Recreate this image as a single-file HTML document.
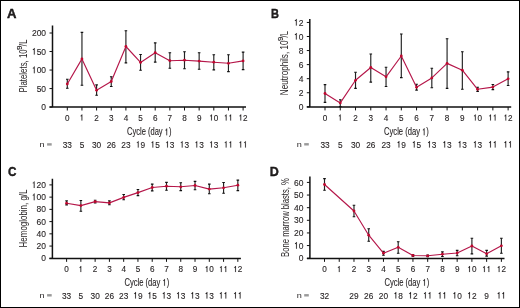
<!DOCTYPE html>
<html><head><meta charset="utf-8"><style>
html,body{margin:0;padding:0;background:#fff;}
body{width:520px;height:308px;overflow:hidden;}
svg{display:block;will-change:transform;}
svg text{font-family:"Liberation Sans", sans-serif;fill:#231f20;}
svg text.n{stroke:#231f20;stroke-width:0.12px;}
path.one{fill:#231f20;stroke:#231f20;stroke-width:0.12px;vector-effect:non-scaling-stroke;}
</style></head><body>
<svg width="520" height="308" viewBox="0 0 520 308">
<rect x="0.5" y="0.5" width="519" height="307" fill="#fff" stroke="#000" stroke-width="1"/>
<text transform="translate(7 17.6) scale(1.05 1)" font-size="12.5" font-weight="bold" fill="#000" stroke="#000" stroke-width="0.35">A</text>
<path d="M52.5 25.6V107.1M49.5 107.1H246" stroke="#111" stroke-width="1.5" fill="none"/>
<path d="M49.5 107.1H52.5M49.5 88.57H52.5M49.5 70.05H52.5M49.5 51.52H52.5M49.5 33H52.5" stroke="#111" stroke-width="1" fill="none"/>
<text class="n" transform="translate(46.1 110.2) scale(0.885 1)" text-anchor="end" font-size="9.6">0</text>
<text class="n" transform="translate(46.1 91.67) scale(0.885 1)" text-anchor="end" font-size="9.6">50</text>
<text class="n" transform="translate(46.1 73.15) scale(0.885 1)" text-anchor="end" font-size="9.6"> 00</text><path class="one" transform="translate(31.92 73.15) scale(0.00415 -0.00469)" d="M470 0V990H230V1130Q470 1150 520 1409H660V0Z"/>
<text class="n" transform="translate(46.1 54.62) scale(0.885 1)" text-anchor="end" font-size="9.6"> 50</text><path class="one" transform="translate(31.92 54.62) scale(0.00415 -0.00469)" d="M470 0V990H230V1130Q470 1150 520 1409H660V0Z"/>
<text class="n" transform="translate(46.1 36.1) scale(0.885 1)" text-anchor="end" font-size="9.6">200</text>
<path d="M67.3 107.1v3.4M81.95 107.1v3.4M96.6 107.1v3.4M111.25 107.1v3.4M125.9 107.1v3.4M140.55 107.1v3.4M155.2 107.1v3.4M169.85 107.1v3.4M184.5 107.1v3.4M199.15 107.1v3.4M213.8 107.1v3.4M228.45 107.1v3.4M243.1 107.1v3.4" stroke="#111" stroke-width="1" fill="none"/>
<text class="n" transform="translate(67.3 120.5) scale(0.93 1)" text-anchor="middle" font-size="8.8">0</text>
<text class="n" transform="translate(81.95 120.5) scale(0.93 1)" text-anchor="middle" font-size="8.8"> </text><path class="one" transform="translate(79.67 120.5) scale(0.00400 -0.00430)" d="M470 0V990H230V1130Q470 1150 520 1409H660V0Z"/>
<text class="n" transform="translate(96.6 120.5) scale(0.93 1)" text-anchor="middle" font-size="8.8">2</text>
<text class="n" transform="translate(111.25 120.5) scale(0.93 1)" text-anchor="middle" font-size="8.8">3</text>
<text class="n" transform="translate(125.9 120.5) scale(0.93 1)" text-anchor="middle" font-size="8.8">4</text>
<text class="n" transform="translate(140.55 120.5) scale(0.93 1)" text-anchor="middle" font-size="8.8">5</text>
<text class="n" transform="translate(155.2 120.5) scale(0.93 1)" text-anchor="middle" font-size="8.8">6</text>
<text class="n" transform="translate(169.85 120.5) scale(0.93 1)" text-anchor="middle" font-size="8.8">7</text>
<text class="n" transform="translate(184.5 120.5) scale(0.93 1)" text-anchor="middle" font-size="8.8">8</text>
<text class="n" transform="translate(199.15 120.5) scale(0.93 1)" text-anchor="middle" font-size="8.8">9</text>
<text class="n" transform="translate(213.8 120.5) scale(0.93 1)" text-anchor="middle" font-size="8.8"> 0</text><path class="one" transform="translate(209.25 120.5) scale(0.00400 -0.00430)" d="M470 0V990H230V1130Q470 1150 520 1409H660V0Z"/>
<text class="n" transform="translate(228.45 120.5) scale(0.93 1)" text-anchor="middle" font-size="8.8">  </text><path class="one" transform="translate(223.9 120.5) scale(0.00400 -0.00430)" d="M470 0V990H230V1130Q470 1150 520 1409H660V0Z"/><path class="one" transform="translate(228.45 120.5) scale(0.00400 -0.00430)" d="M470 0V990H230V1130Q470 1150 520 1409H660V0Z"/>
<text class="n" transform="translate(243.1 120.5) scale(0.93 1)" text-anchor="middle" font-size="8.8"> 2</text><path class="one" transform="translate(238.55 120.5) scale(0.00400 -0.00430)" d="M470 0V990H230V1130Q470 1150 520 1409H660V0Z"/>
<text transform="translate(39.6 147.2) scale(1.22 1)" font-size="7.5">n</text>
<rect x="47.1" y="143.2" width="4.6" height="2.4" fill="#9a9a9a"/>
<text class="n" transform="translate(67.3 147.6) scale(0.885 1)" text-anchor="middle" font-size="9.4">33</text>
<text class="n" transform="translate(81.95 147.6) scale(0.885 1)" text-anchor="middle" font-size="9.4">5</text>
<text class="n" transform="translate(96.6 147.6) scale(0.885 1)" text-anchor="middle" font-size="9.4">30</text>
<text class="n" transform="translate(111.25 147.6) scale(0.885 1)" text-anchor="middle" font-size="9.4">26</text>
<text class="n" transform="translate(125.9 147.6) scale(0.885 1)" text-anchor="middle" font-size="9.4">23</text>
<text class="n" transform="translate(140.55 147.6) scale(0.885 1)" text-anchor="middle" font-size="9.4"> 9</text><path class="one" transform="translate(135.92 147.6) scale(0.00406 -0.00459)" d="M470 0V990H230V1130Q470 1150 520 1409H660V0Z"/>
<text class="n" transform="translate(155.2 147.6) scale(0.885 1)" text-anchor="middle" font-size="9.4"> 5</text><path class="one" transform="translate(150.57 147.6) scale(0.00406 -0.00459)" d="M470 0V990H230V1130Q470 1150 520 1409H660V0Z"/>
<text class="n" transform="translate(169.85 147.6) scale(0.885 1)" text-anchor="middle" font-size="9.4"> 3</text><path class="one" transform="translate(165.22 147.6) scale(0.00406 -0.00459)" d="M470 0V990H230V1130Q470 1150 520 1409H660V0Z"/>
<text class="n" transform="translate(184.5 147.6) scale(0.885 1)" text-anchor="middle" font-size="9.4"> 3</text><path class="one" transform="translate(179.87 147.6) scale(0.00406 -0.00459)" d="M470 0V990H230V1130Q470 1150 520 1409H660V0Z"/>
<text class="n" transform="translate(199.15 147.6) scale(0.885 1)" text-anchor="middle" font-size="9.4"> 3</text><path class="one" transform="translate(194.52 147.6) scale(0.00406 -0.00459)" d="M470 0V990H230V1130Q470 1150 520 1409H660V0Z"/>
<text class="n" transform="translate(213.8 147.6) scale(0.885 1)" text-anchor="middle" font-size="9.4"> 3</text><path class="one" transform="translate(209.17 147.6) scale(0.00406 -0.00459)" d="M470 0V990H230V1130Q470 1150 520 1409H660V0Z"/>
<text class="n" transform="translate(228.45 147.6) scale(0.885 1)" text-anchor="middle" font-size="9.4">  </text><path class="one" transform="translate(223.82 147.6) scale(0.00406 -0.00459)" d="M470 0V990H230V1130Q470 1150 520 1409H660V0Z"/><path class="one" transform="translate(228.45 147.6) scale(0.00406 -0.00459)" d="M470 0V990H230V1130Q470 1150 520 1409H660V0Z"/>
<text class="n" transform="translate(243.1 147.6) scale(0.885 1)" text-anchor="middle" font-size="9.4">  </text><path class="one" transform="translate(238.47 147.6) scale(0.00406 -0.00459)" d="M470 0V990H230V1130Q470 1150 520 1409H660V0Z"/><path class="one" transform="translate(243.1 147.6) scale(0.00406 -0.00459)" d="M470 0V990H230V1130Q470 1150 520 1409H660V0Z"/>
<text transform="translate(127 135.3) scale(1.0 1)" class="n" font-size="10.0" textLength="44.4" lengthAdjust="spacingAndGlyphs">Cycle (day  )</text>
<path class="one" transform="translate(164.7 135.3) scale(0.00368 -0.00488)" d="M470 0V990H230V1130Q470 1150 520 1409H660V0Z"/>
<text transform="translate(27 92.6) rotate(-90)" font-size="10.3" stroke="none" textLength="43.3" lengthAdjust="spacingAndGlyphs">Platelets, 10</text>
<text transform="translate(22 49.9) rotate(-90)" font-size="6.6" stroke="#231f20" stroke-width="0.15" textLength="4.5" lengthAdjust="spacingAndGlyphs">9</text>
<text transform="translate(27 46.2) rotate(-90)" font-size="10.3" stroke="none" textLength="6.6" lengthAdjust="spacingAndGlyphs">/L</text>
<path d="M67.3 79.2V88.3M81.95 32.4V85.3M96.6 84.9V95.3M111.25 76.8V86.5M125.9 30.7V62.9M140.55 54.5V70.2M155.2 42.9V62.1M169.85 52.7V68.3M184.5 51.8V68.7M199.15 52.8V69.3M213.8 54.8V69.9M228.45 54.8V71.6M243.1 52.1V69.6" stroke="#222" stroke-width="1.15" fill="none"/>
<path d="M66 79.2h2.6M66 88.3h2.6M80.65 32.4h2.6M80.65 85.3h2.6M95.3 84.9h2.6M95.3 95.3h2.6M109.95 76.8h2.6M109.95 86.5h2.6M124.6 30.7h2.6M124.6 62.9h2.6M139.25 54.5h2.6M139.25 70.2h2.6M153.9 42.9h2.6M153.9 62.1h2.6M168.55 52.7h2.6M168.55 68.3h2.6M183.2 51.8h2.6M183.2 68.7h2.6M197.85 52.8h2.6M197.85 69.3h2.6M212.5 54.8h2.6M212.5 69.9h2.6M227.15 54.8h2.6M227.15 71.6h2.6M241.8 52.1h2.6M241.8 69.6h2.6" stroke="#111" stroke-width="1.1" fill="none"/>
<polyline points="67.3,84 81.95,58.9 96.6,90.3 111.25,81.5 125.9,46.5 140.55,62.4 155.2,52.7 169.85,60.7 184.5,60.2 199.15,61.1 213.8,62.2 228.45,63.3 243.1,60.9" stroke="#b5174a" stroke-width="1.15" fill="none" stroke-linejoin="round"/>
<circle cx="67.3" cy="84" r="1.4" fill="#c0082f"/>
<circle cx="81.95" cy="58.9" r="1.4" fill="#c0082f"/>
<circle cx="96.6" cy="90.3" r="1.4" fill="#c0082f"/>
<circle cx="111.25" cy="81.5" r="1.4" fill="#c0082f"/>
<circle cx="125.9" cy="46.5" r="1.4" fill="#c0082f"/>
<circle cx="140.55" cy="62.4" r="1.4" fill="#c0082f"/>
<circle cx="155.2" cy="52.7" r="1.4" fill="#c0082f"/>
<circle cx="169.85" cy="60.7" r="1.4" fill="#c0082f"/>
<circle cx="184.5" cy="60.2" r="1.4" fill="#c0082f"/>
<circle cx="199.15" cy="61.1" r="1.4" fill="#c0082f"/>
<circle cx="213.8" cy="62.2" r="1.4" fill="#c0082f"/>
<circle cx="228.45" cy="63.3" r="1.4" fill="#c0082f"/>
<circle cx="243.1" cy="60.9" r="1.4" fill="#c0082f"/>
<text transform="translate(271.1 17.5) scale(0.88 1)" font-size="12.5" font-weight="bold" fill="#000" stroke="#000" stroke-width="0.35">B</text>
<path d="M309.8 19.1V107M306.8 107H511.2" stroke="#111" stroke-width="1.5" fill="none"/>
<path d="M306.8 106.8H309.8M306.8 92.74H309.8M306.8 78.68H309.8M306.8 64.62H309.8M306.8 50.56H309.8M306.8 36.5H309.8M306.8 22.44H309.8" stroke="#111" stroke-width="1" fill="none"/>
<text class="n" transform="translate(303.4 109.9) scale(0.885 1)" text-anchor="end" font-size="9.6">0</text>
<text class="n" transform="translate(303.4 95.84) scale(0.885 1)" text-anchor="end" font-size="9.6">2</text>
<text class="n" transform="translate(303.4 81.78) scale(0.885 1)" text-anchor="end" font-size="9.6">4</text>
<text class="n" transform="translate(303.4 67.72) scale(0.885 1)" text-anchor="end" font-size="9.6">6</text>
<text class="n" transform="translate(303.4 53.66) scale(0.885 1)" text-anchor="end" font-size="9.6">8</text>
<text class="n" transform="translate(303.4 39.6) scale(0.885 1)" text-anchor="end" font-size="9.6"> 0</text><path class="one" transform="translate(293.95 39.6) scale(0.00415 -0.00469)" d="M470 0V990H230V1130Q470 1150 520 1409H660V0Z"/>
<text class="n" transform="translate(303.4 25.54) scale(0.885 1)" text-anchor="end" font-size="9.6"> 2</text><path class="one" transform="translate(293.95 25.54) scale(0.00415 -0.00469)" d="M470 0V990H230V1130Q470 1150 520 1409H660V0Z"/>
<path d="M325 107v3.4M340.26 107v3.4M355.52 107v3.4M370.78 107v3.4M386.04 107v3.4M401.3 107v3.4M416.56 107v3.4M431.82 107v3.4M447.08 107v3.4M462.34 107v3.4M477.6 107v3.4M492.86 107v3.4M508.12 107v3.4" stroke="#111" stroke-width="1" fill="none"/>
<text class="n" transform="translate(325 120.6) scale(0.93 1)" text-anchor="middle" font-size="8.8">0</text>
<text class="n" transform="translate(340.26 120.6) scale(0.93 1)" text-anchor="middle" font-size="8.8"> </text><path class="one" transform="translate(337.98 120.6) scale(0.00400 -0.00430)" d="M470 0V990H230V1130Q470 1150 520 1409H660V0Z"/>
<text class="n" transform="translate(355.52 120.6) scale(0.93 1)" text-anchor="middle" font-size="8.8">2</text>
<text class="n" transform="translate(370.78 120.6) scale(0.93 1)" text-anchor="middle" font-size="8.8">3</text>
<text class="n" transform="translate(386.04 120.6) scale(0.93 1)" text-anchor="middle" font-size="8.8">4</text>
<text class="n" transform="translate(401.3 120.6) scale(0.93 1)" text-anchor="middle" font-size="8.8">5</text>
<text class="n" transform="translate(416.56 120.6) scale(0.93 1)" text-anchor="middle" font-size="8.8">6</text>
<text class="n" transform="translate(431.82 120.6) scale(0.93 1)" text-anchor="middle" font-size="8.8">7</text>
<text class="n" transform="translate(447.08 120.6) scale(0.93 1)" text-anchor="middle" font-size="8.8">8</text>
<text class="n" transform="translate(462.34 120.6) scale(0.93 1)" text-anchor="middle" font-size="8.8">9</text>
<text class="n" transform="translate(477.6 120.6) scale(0.93 1)" text-anchor="middle" font-size="8.8"> 0</text><path class="one" transform="translate(473.05 120.6) scale(0.00400 -0.00430)" d="M470 0V990H230V1130Q470 1150 520 1409H660V0Z"/>
<text class="n" transform="translate(492.86 120.6) scale(0.93 1)" text-anchor="middle" font-size="8.8">  </text><path class="one" transform="translate(488.31 120.6) scale(0.00400 -0.00430)" d="M470 0V990H230V1130Q470 1150 520 1409H660V0Z"/><path class="one" transform="translate(492.86 120.6) scale(0.00400 -0.00430)" d="M470 0V990H230V1130Q470 1150 520 1409H660V0Z"/>
<text class="n" transform="translate(508.12 120.6) scale(0.93 1)" text-anchor="middle" font-size="8.8"> 2</text><path class="one" transform="translate(503.57 120.6) scale(0.00400 -0.00430)" d="M470 0V990H230V1130Q470 1150 520 1409H660V0Z"/>
<text transform="translate(296.7 147.1) scale(1.22 1)" font-size="7.5">n</text>
<rect x="304.2" y="143.1" width="4.6" height="2.4" fill="#9a9a9a"/>
<text class="n" transform="translate(325 147.5) scale(0.885 1)" text-anchor="middle" font-size="9.4">33</text>
<text class="n" transform="translate(340.26 147.5) scale(0.885 1)" text-anchor="middle" font-size="9.4">5</text>
<text class="n" transform="translate(355.52 147.5) scale(0.885 1)" text-anchor="middle" font-size="9.4">30</text>
<text class="n" transform="translate(370.78 147.5) scale(0.885 1)" text-anchor="middle" font-size="9.4">26</text>
<text class="n" transform="translate(386.04 147.5) scale(0.885 1)" text-anchor="middle" font-size="9.4">23</text>
<text class="n" transform="translate(401.3 147.5) scale(0.885 1)" text-anchor="middle" font-size="9.4"> 9</text><path class="one" transform="translate(396.67 147.5) scale(0.00406 -0.00459)" d="M470 0V990H230V1130Q470 1150 520 1409H660V0Z"/>
<text class="n" transform="translate(416.56 147.5) scale(0.885 1)" text-anchor="middle" font-size="9.4"> 5</text><path class="one" transform="translate(411.93 147.5) scale(0.00406 -0.00459)" d="M470 0V990H230V1130Q470 1150 520 1409H660V0Z"/>
<text class="n" transform="translate(431.82 147.5) scale(0.885 1)" text-anchor="middle" font-size="9.4"> 3</text><path class="one" transform="translate(427.19 147.5) scale(0.00406 -0.00459)" d="M470 0V990H230V1130Q470 1150 520 1409H660V0Z"/>
<text class="n" transform="translate(447.08 147.5) scale(0.885 1)" text-anchor="middle" font-size="9.4"> 3</text><path class="one" transform="translate(442.45 147.5) scale(0.00406 -0.00459)" d="M470 0V990H230V1130Q470 1150 520 1409H660V0Z"/>
<text class="n" transform="translate(462.34 147.5) scale(0.885 1)" text-anchor="middle" font-size="9.4"> 3</text><path class="one" transform="translate(457.71 147.5) scale(0.00406 -0.00459)" d="M470 0V990H230V1130Q470 1150 520 1409H660V0Z"/>
<text class="n" transform="translate(477.6 147.5) scale(0.885 1)" text-anchor="middle" font-size="9.4"> 3</text><path class="one" transform="translate(472.97 147.5) scale(0.00406 -0.00459)" d="M470 0V990H230V1130Q470 1150 520 1409H660V0Z"/>
<text class="n" transform="translate(492.86 147.5) scale(0.885 1)" text-anchor="middle" font-size="9.4">  </text><path class="one" transform="translate(488.23 147.5) scale(0.00406 -0.00459)" d="M470 0V990H230V1130Q470 1150 520 1409H660V0Z"/><path class="one" transform="translate(492.86 147.5) scale(0.00406 -0.00459)" d="M470 0V990H230V1130Q470 1150 520 1409H660V0Z"/>
<text class="n" transform="translate(508.12 147.5) scale(0.885 1)" text-anchor="middle" font-size="9.4">  </text><path class="one" transform="translate(503.49 147.5) scale(0.00406 -0.00459)" d="M470 0V990H230V1130Q470 1150 520 1409H660V0Z"/><path class="one" transform="translate(508.12 147.5) scale(0.00406 -0.00459)" d="M470 0V990H230V1130Q470 1150 520 1409H660V0Z"/>
<text transform="translate(384.1 135.2) scale(1.0 1)" class="n" font-size="10.0" textLength="44.7" lengthAdjust="spacingAndGlyphs">Cycle (day  )</text>
<path class="one" transform="translate(422.05 135.2) scale(0.00371 -0.00488)" d="M470 0V990H230V1130Q470 1150 520 1409H660V0Z"/>
<text transform="translate(288.2 95.2) rotate(-90)" font-size="10.3" stroke="none" textLength="54.7" lengthAdjust="spacingAndGlyphs">Neutrophils, 10</text>
<text transform="translate(283.2 40.9) rotate(-90)" font-size="6.6" stroke="#231f20" stroke-width="0.15" textLength="4.3" lengthAdjust="spacingAndGlyphs">9</text>
<text transform="translate(288.2 37.4) rotate(-90)" font-size="10.3" stroke="none" textLength="6.4" lengthAdjust="spacingAndGlyphs">/L</text>
<path d="M325 84.6V102.4M340.26 99.8V106.6M355.52 72.2V88.4M370.78 54V82.1M386.04 67.2V86.5M401.3 34V77.6M416.56 84.3V90.1M431.82 68.3V87.7M447.08 38.7V88.4M462.34 51.8V89.3M477.6 87.2V91.4M492.86 84.5V89.6M508.12 71.9V85.5" stroke="#222" stroke-width="1.15" fill="none"/>
<path d="M323.7 84.6h2.6M323.7 102.4h2.6M338.96 99.8h2.6M338.96 106.6h2.6M354.22 72.2h2.6M354.22 88.4h2.6M369.48 54h2.6M369.48 82.1h2.6M384.74 67.2h2.6M384.74 86.5h2.6M400 34h2.6M400 77.6h2.6M415.26 84.3h2.6M415.26 90.1h2.6M430.52 68.3h2.6M430.52 87.7h2.6M445.78 38.7h2.6M445.78 88.4h2.6M461.04 51.8h2.6M461.04 89.3h2.6M476.3 87.2h2.6M476.3 91.4h2.6M491.56 84.5h2.6M491.56 89.6h2.6M506.82 71.9h2.6M506.82 85.5h2.6" stroke="#111" stroke-width="1.1" fill="none"/>
<polyline points="325,93.5 340.26,102.9 355.52,80.3 370.78,67.5 386.04,76.8 401.3,56 416.56,87.3 431.82,77.9 447.08,63.4 462.34,70.2 477.6,89.3 492.86,87.1 508.12,78.8" stroke="#b5174a" stroke-width="1.15" fill="none" stroke-linejoin="round"/>
<circle cx="325" cy="93.5" r="1.4" fill="#c0082f"/>
<circle cx="340.26" cy="102.9" r="1.4" fill="#c0082f"/>
<circle cx="355.52" cy="80.3" r="1.4" fill="#c0082f"/>
<circle cx="370.78" cy="67.5" r="1.4" fill="#c0082f"/>
<circle cx="386.04" cy="76.8" r="1.4" fill="#c0082f"/>
<circle cx="401.3" cy="56" r="1.4" fill="#c0082f"/>
<circle cx="416.56" cy="87.3" r="1.4" fill="#c0082f"/>
<circle cx="431.82" cy="77.9" r="1.4" fill="#c0082f"/>
<circle cx="447.08" cy="63.4" r="1.4" fill="#c0082f"/>
<circle cx="462.34" cy="70.2" r="1.4" fill="#c0082f"/>
<circle cx="477.6" cy="89.3" r="1.4" fill="#c0082f"/>
<circle cx="492.86" cy="87.1" r="1.4" fill="#c0082f"/>
<circle cx="508.12" cy="78.8" r="1.4" fill="#c0082f"/>
<text transform="translate(8 175.5) scale(0.94 1)" font-size="12.5" font-weight="bold" fill="#000" stroke="#000" stroke-width="0.35">C</text>
<path d="M52.4 178.7V258.45M49.4 258.45H240.9" stroke="#111" stroke-width="1.5" fill="none"/>
<path d="M49.4 258.3H52.4M49.4 246.07H52.4M49.4 233.83H52.4M49.4 221.6H52.4M49.4 209.36H52.4M49.4 197.13H52.4M49.4 184.9H52.4" stroke="#111" stroke-width="1" fill="none"/>
<text class="n" transform="translate(46 261.4) scale(0.885 1)" text-anchor="end" font-size="9.6">0</text>
<text class="n" transform="translate(46 249.17) scale(0.885 1)" text-anchor="end" font-size="9.6">20</text>
<text class="n" transform="translate(46 236.93) scale(0.885 1)" text-anchor="end" font-size="9.6">40</text>
<text class="n" transform="translate(46 224.7) scale(0.885 1)" text-anchor="end" font-size="9.6">60</text>
<text class="n" transform="translate(46 212.46) scale(0.885 1)" text-anchor="end" font-size="9.6">80</text>
<text class="n" transform="translate(46 200.23) scale(0.885 1)" text-anchor="end" font-size="9.6"> 00</text><path class="one" transform="translate(31.82 200.23) scale(0.00415 -0.00469)" d="M470 0V990H230V1130Q470 1150 520 1409H660V0Z"/>
<text class="n" transform="translate(46 188) scale(0.885 1)" text-anchor="end" font-size="9.6"> 20</text><path class="one" transform="translate(31.82 188) scale(0.00415 -0.00469)" d="M470 0V990H230V1130Q470 1150 520 1409H660V0Z"/>
<path d="M66.6 258.45v3.4M80.87 258.45v3.4M95.14 258.45v3.4M109.41 258.45v3.4M123.68 258.45v3.4M137.95 258.45v3.4M152.22 258.45v3.4M166.49 258.45v3.4M180.76 258.45v3.4M195.03 258.45v3.4M209.3 258.45v3.4M223.57 258.45v3.4M237.84 258.45v3.4" stroke="#111" stroke-width="1" fill="none"/>
<text class="n" transform="translate(66.6 272.1) scale(0.93 1)" text-anchor="middle" font-size="8.8">0</text>
<text class="n" transform="translate(80.87 272.1) scale(0.93 1)" text-anchor="middle" font-size="8.8"> </text><path class="one" transform="translate(78.59 272.1) scale(0.00400 -0.00430)" d="M470 0V990H230V1130Q470 1150 520 1409H660V0Z"/>
<text class="n" transform="translate(95.14 272.1) scale(0.93 1)" text-anchor="middle" font-size="8.8">2</text>
<text class="n" transform="translate(109.41 272.1) scale(0.93 1)" text-anchor="middle" font-size="8.8">3</text>
<text class="n" transform="translate(123.68 272.1) scale(0.93 1)" text-anchor="middle" font-size="8.8">4</text>
<text class="n" transform="translate(137.95 272.1) scale(0.93 1)" text-anchor="middle" font-size="8.8">5</text>
<text class="n" transform="translate(152.22 272.1) scale(0.93 1)" text-anchor="middle" font-size="8.8">6</text>
<text class="n" transform="translate(166.49 272.1) scale(0.93 1)" text-anchor="middle" font-size="8.8">7</text>
<text class="n" transform="translate(180.76 272.1) scale(0.93 1)" text-anchor="middle" font-size="8.8">8</text>
<text class="n" transform="translate(195.03 272.1) scale(0.93 1)" text-anchor="middle" font-size="8.8">9</text>
<text class="n" transform="translate(209.3 272.1) scale(0.93 1)" text-anchor="middle" font-size="8.8"> 0</text><path class="one" transform="translate(204.75 272.1) scale(0.00400 -0.00430)" d="M470 0V990H230V1130Q470 1150 520 1409H660V0Z"/>
<text class="n" transform="translate(223.57 272.1) scale(0.93 1)" text-anchor="middle" font-size="8.8">  </text><path class="one" transform="translate(219.02 272.1) scale(0.00400 -0.00430)" d="M470 0V990H230V1130Q470 1150 520 1409H660V0Z"/><path class="one" transform="translate(223.57 272.1) scale(0.00400 -0.00430)" d="M470 0V990H230V1130Q470 1150 520 1409H660V0Z"/>
<text class="n" transform="translate(237.84 272.1) scale(0.93 1)" text-anchor="middle" font-size="8.8"> 2</text><path class="one" transform="translate(233.29 272.1) scale(0.00400 -0.00430)" d="M470 0V990H230V1130Q470 1150 520 1409H660V0Z"/>
<text transform="translate(39.6 298.1) scale(1.22 1)" font-size="7.5">n</text>
<rect x="47.1" y="294.1" width="4.6" height="2.4" fill="#9a9a9a"/>
<text class="n" transform="translate(66.6 298.5) scale(0.885 1)" text-anchor="middle" font-size="9.4">33</text>
<text class="n" transform="translate(80.87 298.5) scale(0.885 1)" text-anchor="middle" font-size="9.4">5</text>
<text class="n" transform="translate(95.14 298.5) scale(0.885 1)" text-anchor="middle" font-size="9.4">30</text>
<text class="n" transform="translate(109.41 298.5) scale(0.885 1)" text-anchor="middle" font-size="9.4">26</text>
<text class="n" transform="translate(123.68 298.5) scale(0.885 1)" text-anchor="middle" font-size="9.4">23</text>
<text class="n" transform="translate(137.95 298.5) scale(0.885 1)" text-anchor="middle" font-size="9.4"> 9</text><path class="one" transform="translate(133.32 298.5) scale(0.00406 -0.00459)" d="M470 0V990H230V1130Q470 1150 520 1409H660V0Z"/>
<text class="n" transform="translate(152.22 298.5) scale(0.885 1)" text-anchor="middle" font-size="9.4"> 5</text><path class="one" transform="translate(147.59 298.5) scale(0.00406 -0.00459)" d="M470 0V990H230V1130Q470 1150 520 1409H660V0Z"/>
<text class="n" transform="translate(166.49 298.5) scale(0.885 1)" text-anchor="middle" font-size="9.4"> 3</text><path class="one" transform="translate(161.86 298.5) scale(0.00406 -0.00459)" d="M470 0V990H230V1130Q470 1150 520 1409H660V0Z"/>
<text class="n" transform="translate(180.76 298.5) scale(0.885 1)" text-anchor="middle" font-size="9.4"> 3</text><path class="one" transform="translate(176.13 298.5) scale(0.00406 -0.00459)" d="M470 0V990H230V1130Q470 1150 520 1409H660V0Z"/>
<text class="n" transform="translate(195.03 298.5) scale(0.885 1)" text-anchor="middle" font-size="9.4"> 3</text><path class="one" transform="translate(190.4 298.5) scale(0.00406 -0.00459)" d="M470 0V990H230V1130Q470 1150 520 1409H660V0Z"/>
<text class="n" transform="translate(209.3 298.5) scale(0.885 1)" text-anchor="middle" font-size="9.4"> 3</text><path class="one" transform="translate(204.67 298.5) scale(0.00406 -0.00459)" d="M470 0V990H230V1130Q470 1150 520 1409H660V0Z"/>
<text class="n" transform="translate(223.57 298.5) scale(0.885 1)" text-anchor="middle" font-size="9.4">  </text><path class="one" transform="translate(218.94 298.5) scale(0.00406 -0.00459)" d="M470 0V990H230V1130Q470 1150 520 1409H660V0Z"/><path class="one" transform="translate(223.57 298.5) scale(0.00406 -0.00459)" d="M470 0V990H230V1130Q470 1150 520 1409H660V0Z"/>
<text class="n" transform="translate(237.84 298.5) scale(0.885 1)" text-anchor="middle" font-size="9.4">  </text><path class="one" transform="translate(233.21 298.5) scale(0.00406 -0.00459)" d="M470 0V990H230V1130Q470 1150 520 1409H660V0Z"/><path class="one" transform="translate(237.84 298.5) scale(0.00406 -0.00459)" d="M470 0V990H230V1130Q470 1150 520 1409H660V0Z"/>
<text transform="translate(124.5 285.8) scale(1.0 1)" class="n" font-size="10.0" textLength="44.7" lengthAdjust="spacingAndGlyphs">Cycle (day  )</text>
<path class="one" transform="translate(162.45 285.8) scale(0.00371 -0.00488)" d="M470 0V990H230V1130Q470 1150 520 1409H660V0Z"/>
<text transform="translate(26.9 247.4) rotate(-90)" font-size="10.3" stroke="none" textLength="57.9" lengthAdjust="spacingAndGlyphs">Hemoglobin, g/L</text>
<path d="M66.6 200.9V204.9M80.87 200.5V211.3M95.14 200.2V202.9M109.41 200.9V204.7M123.68 194.5V199.8M137.95 189.5V195.6M152.22 184.1V190.9M166.49 182.4V190.2M180.76 182.8V190.6M195.03 181.4V189.8M209.3 184.1V193.8M223.57 182.5V193.3M237.84 180.1V190.6" stroke="#222" stroke-width="1.15" fill="none"/>
<path d="M65.3 200.9h2.6M65.3 204.9h2.6M79.57 200.5h2.6M79.57 211.3h2.6M93.84 200.2h2.6M93.84 202.9h2.6M108.11 200.9h2.6M108.11 204.7h2.6M122.38 194.5h2.6M122.38 199.8h2.6M136.65 189.5h2.6M136.65 195.6h2.6M150.92 184.1h2.6M150.92 190.9h2.6M165.19 182.4h2.6M165.19 190.2h2.6M179.46 182.8h2.6M179.46 190.6h2.6M193.73 181.4h2.6M193.73 189.8h2.6M208 184.1h2.6M208 193.8h2.6M222.27 182.5h2.6M222.27 193.3h2.6M236.54 180.1h2.6M236.54 190.6h2.6" stroke="#111" stroke-width="1.1" fill="none"/>
<polyline points="66.6,203.2 80.87,205.6 95.14,201.6 109.41,202.9 123.68,197.4 137.95,192.6 152.22,187.5 166.49,186.2 180.76,186.8 195.03,185.5 209.3,189.1 223.57,187.8 237.84,185.2" stroke="#b5174a" stroke-width="1.15" fill="none" stroke-linejoin="round"/>
<circle cx="66.6" cy="203.2" r="1.4" fill="#c0082f"/>
<circle cx="80.87" cy="205.6" r="1.4" fill="#c0082f"/>
<circle cx="95.14" cy="201.6" r="1.4" fill="#c0082f"/>
<circle cx="109.41" cy="202.9" r="1.4" fill="#c0082f"/>
<circle cx="123.68" cy="197.4" r="1.4" fill="#c0082f"/>
<circle cx="137.95" cy="192.6" r="1.4" fill="#c0082f"/>
<circle cx="152.22" cy="187.5" r="1.4" fill="#c0082f"/>
<circle cx="166.49" cy="186.2" r="1.4" fill="#c0082f"/>
<circle cx="180.76" cy="186.8" r="1.4" fill="#c0082f"/>
<circle cx="195.03" cy="185.5" r="1.4" fill="#c0082f"/>
<circle cx="209.3" cy="189.1" r="1.4" fill="#c0082f"/>
<circle cx="223.57" cy="187.8" r="1.4" fill="#c0082f"/>
<circle cx="237.84" cy="185.2" r="1.4" fill="#c0082f"/>
<text transform="translate(269.8 175.6) scale(1.0 1)" font-size="12.5" font-weight="bold" fill="#000" stroke="#000" stroke-width="0.35">D</text>
<path d="M309.9 176.6V258.45M306.9 258.45H504.5" stroke="#111" stroke-width="1.5" fill="none"/>
<path d="M306.9 258.2H309.9M306.9 245.57H309.9M306.9 232.94H309.9M306.9 220.31H309.9M306.9 207.68H309.9M306.9 195.05H309.9M306.9 182.42H309.9" stroke="#111" stroke-width="1" fill="none"/>
<text class="n" transform="translate(303.5 261.3) scale(0.885 1)" text-anchor="end" font-size="9.6">0</text>
<text class="n" transform="translate(303.5 248.67) scale(0.885 1)" text-anchor="end" font-size="9.6"> 0</text><path class="one" transform="translate(294.05 248.67) scale(0.00415 -0.00469)" d="M470 0V990H230V1130Q470 1150 520 1409H660V0Z"/>
<text class="n" transform="translate(303.5 236.04) scale(0.885 1)" text-anchor="end" font-size="9.6">20</text>
<text class="n" transform="translate(303.5 223.41) scale(0.885 1)" text-anchor="end" font-size="9.6">30</text>
<text class="n" transform="translate(303.5 210.78) scale(0.885 1)" text-anchor="end" font-size="9.6">40</text>
<text class="n" transform="translate(303.5 198.15) scale(0.885 1)" text-anchor="end" font-size="9.6">50</text>
<text class="n" transform="translate(303.5 185.52) scale(0.885 1)" text-anchor="end" font-size="9.6">60</text>
<path d="M324.5 258.45v3.4M339.24 258.45v3.4M353.98 258.45v3.4M368.72 258.45v3.4M383.46 258.45v3.4M398.2 258.45v3.4M412.94 258.45v3.4M427.68 258.45v3.4M442.42 258.45v3.4M457.16 258.45v3.4M471.9 258.45v3.4M486.64 258.45v3.4M501.38 258.45v3.4" stroke="#111" stroke-width="1" fill="none"/>
<text class="n" transform="translate(324.5 272.1) scale(0.93 1)" text-anchor="middle" font-size="8.8">0</text>
<text class="n" transform="translate(339.24 272.1) scale(0.93 1)" text-anchor="middle" font-size="8.8"> </text><path class="one" transform="translate(336.96 272.1) scale(0.00400 -0.00430)" d="M470 0V990H230V1130Q470 1150 520 1409H660V0Z"/>
<text class="n" transform="translate(353.98 272.1) scale(0.93 1)" text-anchor="middle" font-size="8.8">2</text>
<text class="n" transform="translate(368.72 272.1) scale(0.93 1)" text-anchor="middle" font-size="8.8">3</text>
<text class="n" transform="translate(383.46 272.1) scale(0.93 1)" text-anchor="middle" font-size="8.8">4</text>
<text class="n" transform="translate(398.2 272.1) scale(0.93 1)" text-anchor="middle" font-size="8.8">5</text>
<text class="n" transform="translate(412.94 272.1) scale(0.93 1)" text-anchor="middle" font-size="8.8">6</text>
<text class="n" transform="translate(427.68 272.1) scale(0.93 1)" text-anchor="middle" font-size="8.8">7</text>
<text class="n" transform="translate(442.42 272.1) scale(0.93 1)" text-anchor="middle" font-size="8.8">8</text>
<text class="n" transform="translate(457.16 272.1) scale(0.93 1)" text-anchor="middle" font-size="8.8">9</text>
<text class="n" transform="translate(471.9 272.1) scale(0.93 1)" text-anchor="middle" font-size="8.8"> 0</text><path class="one" transform="translate(467.35 272.1) scale(0.00400 -0.00430)" d="M470 0V990H230V1130Q470 1150 520 1409H660V0Z"/>
<text class="n" transform="translate(486.64 272.1) scale(0.93 1)" text-anchor="middle" font-size="8.8">  </text><path class="one" transform="translate(482.09 272.1) scale(0.00400 -0.00430)" d="M470 0V990H230V1130Q470 1150 520 1409H660V0Z"/><path class="one" transform="translate(486.64 272.1) scale(0.00400 -0.00430)" d="M470 0V990H230V1130Q470 1150 520 1409H660V0Z"/>
<text class="n" transform="translate(501.38 272.1) scale(0.93 1)" text-anchor="middle" font-size="8.8"> 2</text><path class="one" transform="translate(496.83 272.1) scale(0.00400 -0.00430)" d="M470 0V990H230V1130Q470 1150 520 1409H660V0Z"/>
<text transform="translate(296.7 298.1) scale(1.22 1)" font-size="7.5">n</text>
<rect x="304.2" y="294.1" width="4.6" height="2.4" fill="#9a9a9a"/>
<text class="n" transform="translate(324.5 298.5) scale(0.885 1)" text-anchor="middle" font-size="9.4">32</text>
<text class="n" transform="translate(353.98 298.5) scale(0.885 1)" text-anchor="middle" font-size="9.4">29</text>
<text class="n" transform="translate(368.72 298.5) scale(0.885 1)" text-anchor="middle" font-size="9.4">26</text>
<text class="n" transform="translate(383.46 298.5) scale(0.885 1)" text-anchor="middle" font-size="9.4">20</text>
<text class="n" transform="translate(398.2 298.5) scale(0.885 1)" text-anchor="middle" font-size="9.4"> 8</text><path class="one" transform="translate(393.57 298.5) scale(0.00406 -0.00459)" d="M470 0V990H230V1130Q470 1150 520 1409H660V0Z"/>
<text class="n" transform="translate(412.94 298.5) scale(0.885 1)" text-anchor="middle" font-size="9.4"> 2</text><path class="one" transform="translate(408.31 298.5) scale(0.00406 -0.00459)" d="M470 0V990H230V1130Q470 1150 520 1409H660V0Z"/>
<text class="n" transform="translate(427.68 298.5) scale(0.885 1)" text-anchor="middle" font-size="9.4">  </text><path class="one" transform="translate(423.05 298.5) scale(0.00406 -0.00459)" d="M470 0V990H230V1130Q470 1150 520 1409H660V0Z"/><path class="one" transform="translate(427.68 298.5) scale(0.00406 -0.00459)" d="M470 0V990H230V1130Q470 1150 520 1409H660V0Z"/>
<text class="n" transform="translate(442.42 298.5) scale(0.885 1)" text-anchor="middle" font-size="9.4">  </text><path class="one" transform="translate(437.79 298.5) scale(0.00406 -0.00459)" d="M470 0V990H230V1130Q470 1150 520 1409H660V0Z"/><path class="one" transform="translate(442.42 298.5) scale(0.00406 -0.00459)" d="M470 0V990H230V1130Q470 1150 520 1409H660V0Z"/>
<text class="n" transform="translate(457.16 298.5) scale(0.885 1)" text-anchor="middle" font-size="9.4"> 0</text><path class="one" transform="translate(452.53 298.5) scale(0.00406 -0.00459)" d="M470 0V990H230V1130Q470 1150 520 1409H660V0Z"/>
<text class="n" transform="translate(471.9 298.5) scale(0.885 1)" text-anchor="middle" font-size="9.4"> 2</text><path class="one" transform="translate(467.27 298.5) scale(0.00406 -0.00459)" d="M470 0V990H230V1130Q470 1150 520 1409H660V0Z"/>
<text class="n" transform="translate(486.64 298.5) scale(0.885 1)" text-anchor="middle" font-size="9.4">9</text>
<text class="n" transform="translate(501.38 298.5) scale(0.885 1)" text-anchor="middle" font-size="9.4">  </text><path class="one" transform="translate(496.75 298.5) scale(0.00406 -0.00459)" d="M470 0V990H230V1130Q470 1150 520 1409H660V0Z"/><path class="one" transform="translate(501.38 298.5) scale(0.00406 -0.00459)" d="M470 0V990H230V1130Q470 1150 520 1409H660V0Z"/>
<text transform="translate(384.5 285.8) scale(1.0 1)" class="n" font-size="10.0" textLength="44.7" lengthAdjust="spacingAndGlyphs">Cycle (day  )</text>
<path class="one" transform="translate(422.45 285.8) scale(0.00371 -0.00488)" d="M470 0V990H230V1130Q470 1150 520 1409H660V0Z"/>
<text transform="translate(288.6 256.9) rotate(-90)" font-size="10.3" stroke="none" textLength="78.8" lengthAdjust="spacingAndGlyphs">Bone marrow blasts, %</text>
<path d="M324.5 178.6V190.2M353.98 205.2V216.8M368.72 228.7V241.3M383.46 251.4V255.3M398.2 241.8V253.2M412.94 254.6V256.4M427.68 255V256.6M442.42 251.9V256.5M457.16 250.4V255.8M471.9 238.3V253.9M486.64 250.4V256.1M501.38 238.3V253.2" stroke="#222" stroke-width="1.15" fill="none"/>
<path d="M323.2 178.6h2.6M323.2 190.2h2.6M352.68 205.2h2.6M352.68 216.8h2.6M367.42 228.7h2.6M367.42 241.3h2.6M382.16 251.4h2.6M382.16 255.3h2.6M396.9 241.8h2.6M396.9 253.2h2.6M411.64 254.6h2.6M411.64 256.4h2.6M426.38 255h2.6M426.38 256.6h2.6M441.12 251.9h2.6M441.12 256.5h2.6M455.86 250.4h2.6M455.86 255.8h2.6M470.6 238.3h2.6M470.6 253.9h2.6M485.34 250.4h2.6M485.34 256.1h2.6M500.08 238.3h2.6M500.08 253.2h2.6" stroke="#111" stroke-width="1.1" fill="none"/>
<polyline points="324.5,184.5 353.98,211 368.72,235.2 383.46,253.2 398.2,247.3 412.94,255.5 427.68,255.8 442.42,254.2 457.16,253 471.9,246 486.64,253.8 501.38,245.8" stroke="#b5174a" stroke-width="1.15" fill="none" stroke-linejoin="round"/>
<circle cx="324.5" cy="184.5" r="1.4" fill="#c0082f"/>
<circle cx="353.98" cy="211" r="1.4" fill="#c0082f"/>
<circle cx="368.72" cy="235.2" r="1.4" fill="#c0082f"/>
<circle cx="383.46" cy="253.2" r="1.4" fill="#c0082f"/>
<circle cx="398.2" cy="247.3" r="1.4" fill="#c0082f"/>
<circle cx="412.94" cy="255.5" r="1.4" fill="#c0082f"/>
<circle cx="427.68" cy="255.8" r="1.4" fill="#c0082f"/>
<circle cx="442.42" cy="254.2" r="1.4" fill="#c0082f"/>
<circle cx="457.16" cy="253" r="1.4" fill="#c0082f"/>
<circle cx="471.9" cy="246" r="1.4" fill="#c0082f"/>
<circle cx="486.64" cy="253.8" r="1.4" fill="#c0082f"/>
<circle cx="501.38" cy="245.8" r="1.4" fill="#c0082f"/>
</svg>
</body></html>
